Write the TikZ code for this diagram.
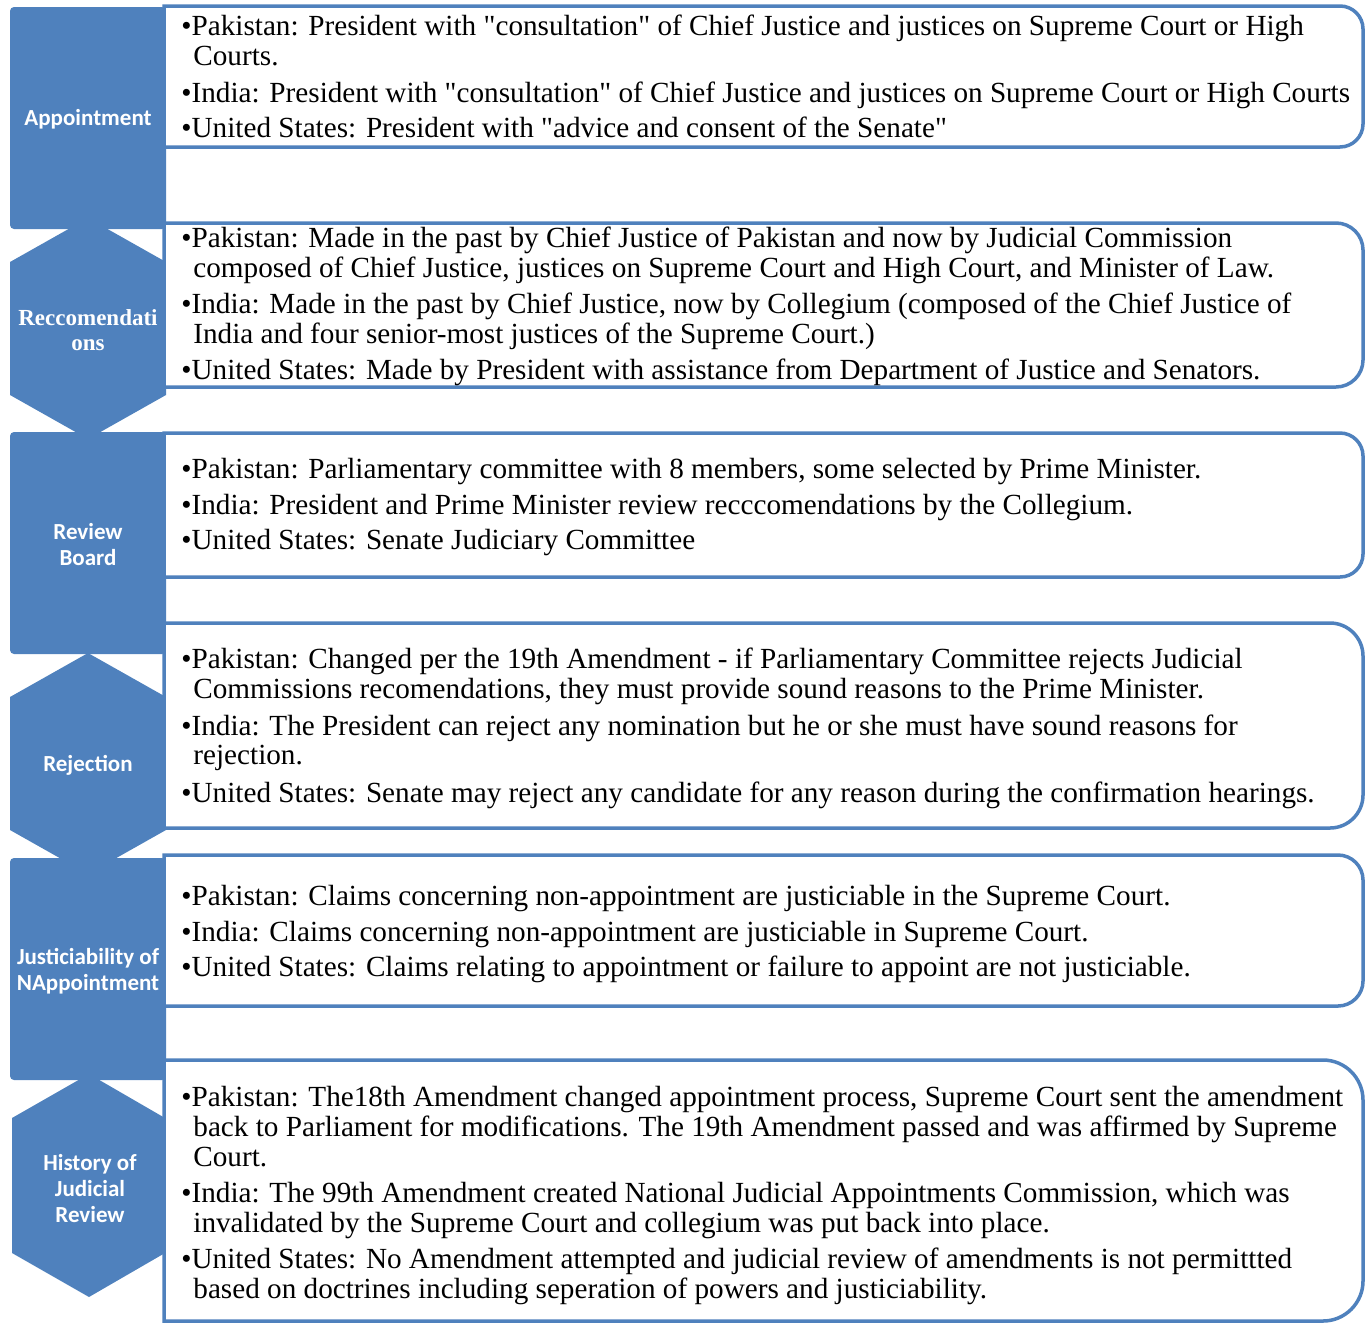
\documentclass[tikz,border=0pt]{standalone}
\usepackage{fontspec}
\newfontfamily\bodyrm{Liberation Serif}
\newfontfamily\lblsans{Carlito}
\newfontfamily\lblserif{Liberation Serif}
\definecolor{ppblue}{HTML}{4F81BD}

% card outline: square left side, rounded right corners
\newcommand\cardshape[3]{% top, bottom, radius
  \draw[card] (164,#1) -- ({1363-#3},#1)
    .. controls ({1363-0.45*#3},#1) and (1363,{#1+0.45*#3}) .. (1363,{#1+#3})
    -- (1363,{#2-#3})
    .. controls (1363,{#2-0.45*#3}) and ({1363-0.45*#3},#2) .. ({1363-#3},#2)
    -- (164,#2) -- cycle;}

\tikzset{
  chev/.style={fill=ppblue, draw=none},
  card/.style={draw=ppblue, line width=1.75pt, fill=white},
  lbl/.style={text=white, align=center, inner sep=0pt,
    font=\lblsans\bfseries\fontsize{11.5}{13}\selectfont},
  lblrm/.style={lbl, font=\lblserif\bfseries\fontsize{11.5}{12.5}\selectfont},
  txt/.style={anchor=base west, inner sep=0pt, text=black,
    font=\bodyrm\fontsize{14.6}{15}\selectfont},
}

\begin{document}
\begin{tikzpicture}[x=0.5pt, y=-0.5pt]
\useasboundingbox (0,0) rectangle (1369,1323);

% left column of blue step shapes
\fill[chev, rounded corners=2pt] (10,7) rectangle (166,229);
\fill[chev] (88,218) -- (166,262) -- (166,395) -- (88,439) -- (10,395) -- (10,262) -- cycle;
\fill[chev, rounded corners=2pt] (10,432) rectangle (166,654);
\fill[chev] (88,653) -- (166,697) -- (166,830) -- (88,874) -- (10,830) -- (10,697) -- cycle;
\fill[chev, rounded corners=2pt] (10,858) rectangle (166,1080);
\fill[chev] (89,1074) -- (165,1118) -- (165,1253) -- (89,1297) -- (12,1253) -- (12,1118) -- cycle;

% step labels
\node[lbl] (s1) at (88,119) {Appointment};
\node[lblrm] (s2) at (88,330) {Reccomendati\\ons};
\node[lbl] (s3) at (88,545) {Review\\Board};
\node[lbl] (s4) at (88,765) {Rejection};
\node[lbl] (s5) at (88,971) {Justiciability of\\NAppointment};
\node[lbl] (s6) at (90,1188) {History of\\Judicial\\Review};

% detail cards
\cardshape{6}{147}{23}
\cardshape{223}{387}{27}
\cardshape{433}{577}{23}
\cardshape{623}{828}{33}
\cardshape{855}{1006}{25}
\cardshape{1060}{1321}{40}

% card 1
\node[txt] (a1) at (181,35) {•Pakistan: President with "consultation" of Chief Justice and justices on Supreme Court or High};
\node[txt] (a2) at (193,65) {Courts.};
\node[txt] (a3) at (181,102) {•India: President with "consultation" of Chief Justice and justices on Supreme Court or High Courts};
\node[txt] (a4) at (181,137) {•United States: President with "advice and consent of the Senate"};

% card 2
\node[txt] (b1) at (181,247) {•Pakistan: Made in the past by Chief Justice of Pakistan and now by Judicial Commission};
\node[txt] (b2) at (193,277) {composed of Chief Justice, justices on Supreme Court and High Court, and Minister of Law.};
\node[txt] (b3) at (181,313) {•India: Made in the past by Chief Justice, now by Collegium (composed of the Chief Justice of};
\node[txt] (b4) at (193,343) {India and four senior-most justices of the Supreme Court.)};
\node[txt] (b5) at (181,379) {•United States: Made by President with assistance from Department of Justice and Senators.};

% card 3
\node[txt] (c1) at (181,478) {•Pakistan: Parliamentary committee with 8 members, some selected by Prime Minister.};
\node[txt] (c2) at (181,514) {•India: President and Prime Minister review recccomendations by the Collegium.};
\node[txt] (c3) at (181,549) {•United States: Senate Judiciary Committee};

% card 4
\node[txt] (d1) at (181,668) {•Pakistan: Changed per the 19th Amendment - if Parliamentary Committee rejects Judicial};
\node[txt] (d2) at (193,698) {Commissions recomendations, they must provide sound reasons to the Prime Minister.};
\node[txt] (d3) at (181,735) {•India: The President can reject any nomination but he or she must have sound reasons for};
\node[txt] (d4) at (193,764) {rejection.};
\node[txt] (d5) at (181,802) {•United States: Senate may reject any candidate for any reason during the confirmation hearings.};

% card 5
\node[txt] (e1) at (181,905) {•Pakistan: Claims concerning non-appointment are justiciable in the Supreme Court.};
\node[txt] (e2) at (181,941) {•India: Claims concerning non-appointment are justiciable in Supreme Court.};
\node[txt] (e3) at (181,976) {•United States: Claims relating to appointment or failure to appoint are not justiciable.};

% card 6
\node[txt] (f1) at (181,1106) {•Pakistan: The18th Amendment changed appointment process, Supreme Court sent the amendment};
\node[txt] (f2) at (193,1136) {back to Parliament for modifications. The 19th Amendment passed and was affirmed by Supreme};
\node[txt] (f3) at (193,1166) {Court.};
\node[txt] (f4) at (181,1202) {•India: The 99th Amendment created National Judicial Appointments Commission, which was};
\node[txt] (f5) at (193,1232) {invalidated by the Supreme Court and collegium was put back into place.};
\node[txt] (f6) at (181,1268) {•United States: No Amendment attempted and judicial review of amendments is not permittted};
\node[txt] (f7) at (193,1298) {based on doctrines including seperation of powers and justiciability.};
\end{tikzpicture}
\end{document}
